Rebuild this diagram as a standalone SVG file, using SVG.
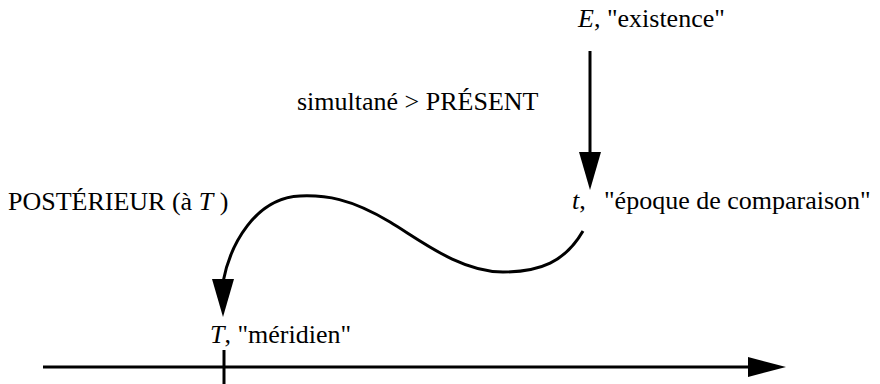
<svg xmlns="http://www.w3.org/2000/svg" width="880" height="384" viewBox="0 0 880 384">
<style>
text{font-family:"Liberation Serif","Times New Roman",serif;font-size:26px;fill:#000}
.it{font-style:italic}
.ln{stroke:#000;stroke-width:3;fill:none}
.hd{fill:#000;stroke:none}
</style>
<rect width="880" height="384" fill="#fff"/>
<g id="E"><text x="578" y="27"><tspan class="it">E</tspan>, "existence"</text></g>
<g id="present"><text x="297" y="110">simultané &gt; PRÉSENT</text></g>
<g id="posterieur"><text x="8" y="210">POSTÉRIEUR (à <tspan class="it">T</tspan> )</text></g>
<g id="t"><text x="572" y="209"><tspan class="it">t</tspan>,<tspan x="604">"époque de comparaison"</tspan></text></g>
<g id="T"><text x="210" y="343"><tspan class="it">T</tspan>,  "méridien"</text></g>
<g id="axis">
<line class="ln" x1="43" y1="367" x2="750" y2="367"/>
<polygon class="hd" points="748,357 786,367 748,377"/>
<line class="ln" x1="224" y1="350" x2="224" y2="384"/>
</g>
<g id="connectors">
<line class="ln" x1="590" y1="51" x2="590" y2="154"/>
<polygon class="hd" points="579,152 601,152 590,190"/>
<path class="ln" d="M583,231 C565,262 540,272 503,272 C460,272 420,240 390,222 C350,198 325,195 300,196 C255,198 230,245 223,282"/>
<polygon class="hd" points="212,279 234,279 223,317"/>
</g>
</svg>
